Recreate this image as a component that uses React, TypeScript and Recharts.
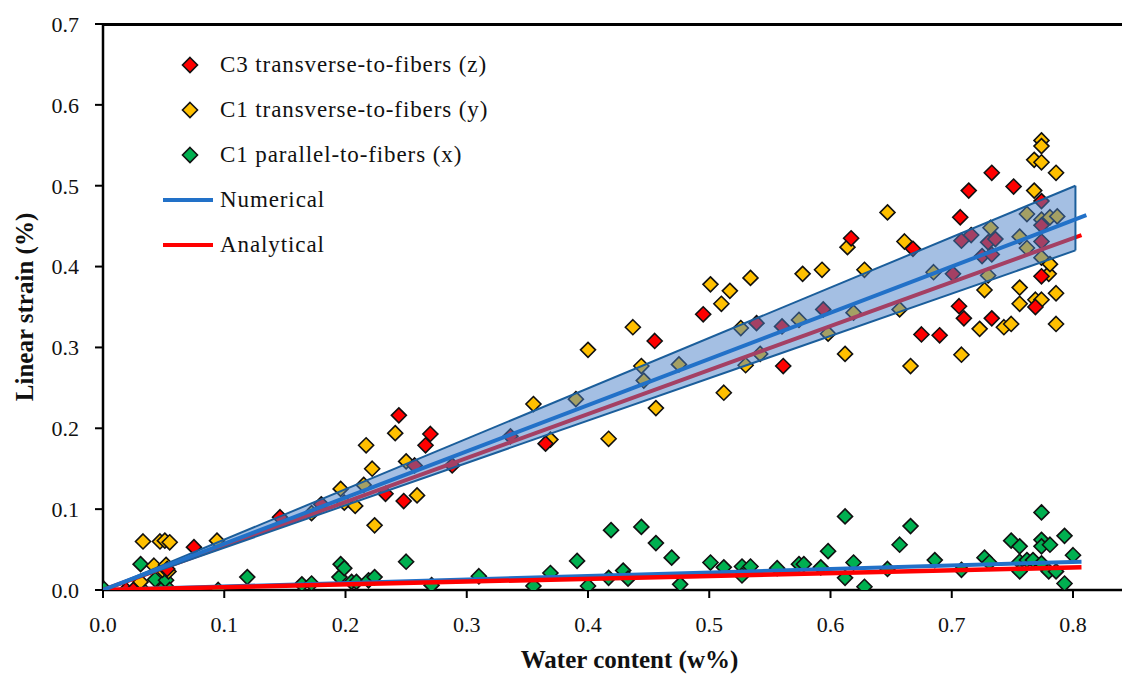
import { ComposedChart, Scatter, Line, Area, XAxis, YAxis, Legend } from "recharts";

const FONT = '"Liberation Serif", "Times New Roman", serif';

const xDomain = [0, 0.847];
const yDomain = [0, 0.7];
const xTicks = [0, 0.1, 0.2, 0.3, 0.4, 0.5, 0.6, 0.7, 0.8];
const yTicks = [0, 0.1, 0.2, 0.3, 0.4, 0.5, 0.6, 0.7];

// measured points [water content, strain]
const c3zPoints: [number, number][] = [
  [0.019, 0.0], [0.025, 0.0], [0.053, 0.026], [0.075, 0.053], [0.146, 0.09], [0.18, 0.106],
  [0.233, 0.119], [0.248, 0.11], [0.244, 0.216], [0.257, 0.154], [0.266, 0.179], [0.27, 0.193],
  [0.288, 0.154], [0.336, 0.19], [0.365, 0.181], [0.455, 0.308], [0.495, 0.341], [0.539, 0.33],
  [0.56, 0.326], [0.561, 0.277], [0.594, 0.347], [0.617, 0.435], [0.668, 0.422], [0.675, 0.316],
  [0.69, 0.315], [0.701, 0.391], [0.706, 0.351], [0.707, 0.461], [0.708, 0.432], [0.71, 0.336],
  [0.714, 0.494], [0.716, 0.439], [0.725, 0.413], [0.73, 0.43], [0.733, 0.516], [0.733, 0.415],
  [0.733, 0.336], [0.736, 0.434], [0.751, 0.499], [0.769, 0.35], [0.774, 0.481], [0.774, 0.451],
  [0.774, 0.431], [0.774, 0.388],
];

const c1yPoints: [number, number][] = [
  [0.031, 0.01], [0.033, 0.06], [0.042, 0.03], [0.047, 0.06], [0.049, 0.025], [0.051, 0.061],
  [0.052, 0.031], [0.054, 0.023], [0.055, 0.059], [0.094, 0.061], [0.172, 0.095], [0.196, 0.125],
  [0.199, 0.108], [0.208, 0.104], [0.215, 0.13], [0.217, 0.179], [0.222, 0.15], [0.224, 0.08],
  [0.241, 0.194], [0.25, 0.159], [0.259, 0.117], [0.355, 0.23], [0.369, 0.186], [0.39, 0.236],
  [0.4, 0.297], [0.417, 0.187], [0.437, 0.325], [0.444, 0.277], [0.446, 0.259], [0.456, 0.225],
  [0.475, 0.279], [0.501, 0.378], [0.51, 0.354], [0.512, 0.244], [0.517, 0.37], [0.526, 0.324],
  [0.53, 0.278], [0.534, 0.386], [0.542, 0.292], [0.574, 0.334], [0.577, 0.391], [0.593, 0.396],
  [0.598, 0.317], [0.612, 0.292], [0.614, 0.424], [0.619, 0.343], [0.628, 0.396], [0.647, 0.467],
  [0.657, 0.347], [0.661, 0.431], [0.666, 0.277], [0.685, 0.393], [0.708, 0.291], [0.723, 0.323],
  [0.727, 0.371], [0.73, 0.389], [0.732, 0.448], [0.743, 0.325], [0.749, 0.329], [0.756, 0.437],
  [0.756, 0.374], [0.756, 0.354], [0.762, 0.465], [0.762, 0.423], [0.768, 0.532], [0.768, 0.494],
  [0.769, 0.359], [0.774, 0.556], [0.774, 0.549], [0.774, 0.529], [0.774, 0.458], [0.774, 0.411],
  [0.774, 0.359], [0.78, 0.391], [0.781, 0.461], [0.781, 0.403], [0.786, 0.516], [0.786, 0.367],
  [0.786, 0.329], [0.787, 0.462],
];

const c1xPoints: [number, number][] = [
  [0.001, 0.001], [0.031, 0.032], [0.033, 0.0], [0.043, 0.013], [0.048, 0.0], [0.052, 0.012],
  [0.055, 0.0], [0.095, 0.0], [0.119, 0.016], [0.164, 0.007], [0.172, 0.008], [0.195, 0.016],
  [0.196, 0.032], [0.199, 0.027], [0.205, 0.01], [0.209, 0.01], [0.219, 0.012], [0.224, 0.016],
  [0.25, 0.035], [0.271, 0.006], [0.31, 0.017], [0.355, 0.005], [0.369, 0.021], [0.391, 0.036],
  [0.4, 0.005], [0.417, 0.015], [0.419, 0.074], [0.429, 0.024], [0.433, 0.014], [0.444, 0.078],
  [0.456, 0.058], [0.469, 0.04], [0.476, 0.007], [0.501, 0.034], [0.512, 0.028], [0.527, 0.029],
  [0.527, 0.018], [0.534, 0.029], [0.556, 0.027], [0.574, 0.032], [0.578, 0.032], [0.592, 0.028],
  [0.598, 0.048], [0.612, 0.091], [0.612, 0.015], [0.619, 0.034], [0.628, 0.004], [0.647, 0.026],
  [0.657, 0.056], [0.666, 0.079], [0.686, 0.037], [0.708, 0.025], [0.727, 0.04], [0.731, 0.034],
  [0.749, 0.061], [0.756, 0.054], [0.756, 0.035], [0.756, 0.023], [0.762, 0.037], [0.767, 0.037],
  [0.774, 0.096], [0.774, 0.062], [0.774, 0.054], [0.774, 0.033], [0.78, 0.023], [0.781, 0.056],
  [0.786, 0.023], [0.793, 0.067], [0.793, 0.008], [0.8, 0.043],
];

// model lines (start, end)
const numericalX = [0, 0.811];
const numericalY = [0, 0.4635];
const analyticalX = [0, 0.807];
const analyticalY = [0, 0.439];
const numericalLowX = [0, 0.807];
const numericalLowY = [0, 0.035];
const analyticalLowX = [0, 0.807];
const analyticalLowY = [0, 0.028];

// numerical scatter band
const bandX = [0, 0.802];
const bandLow = [0, 0.42];
const bandHigh = [0, 0.5];

const RED = "#ff0000";
const YELLOW = "#ffc000";
const GREEN = "#00b050";
const BLUE = "#2271c8";
const BAND_EDGE = "#1b5e9b";

const toXY = (pts: [number, number][]) => pts.map(([x, y]) => ({ x, y }));
const toLine = (xs: number[], ys: number[]) => xs.map((x, i) => ({ x, y: ys[i] }));
const bandData = bandX.map((x, i) => ({ x, band: [bandLow[i], bandHigh[i]] }));
const bandEdge = [
  { x: bandX[bandX.length - 1], y: bandLow[bandLow.length - 1] },
  { x: bandX[bandX.length - 1], y: bandHigh[bandHigh.length - 1] },
];

const legendItems = [
  { label: "C3 transverse-to-fibers (z)", color: RED, kind: "diamond" },
  { label: "C1 transverse-to-fibers (y)", color: YELLOW, kind: "diamond" },
  { label: "C1 parallel-to-fibers (x)", color: GREEN, kind: "diamond" },
  { label: "Numerical", color: BLUE, kind: "line" },
  { label: "Analytical", color: RED, kind: "line" },
];

function Diamond(props: any) {
  const { cx, cy, fill } = props;
  if (cx == null || cy == null) return null;
  const r = 7.5;
  return (
    <polygon
      points={`${cx},${cy - r} ${cx + r},${cy} ${cx},${cy + r} ${cx - r},${cy}`}
      fill={fill}
      stroke="#111"
      strokeWidth={1.6}
    />
  );
}

function LegendBox() {
  return (
    <div style={{ fontFamily: FONT, fontSize: 23, color: "#111" }}>
      {legendItems.map((it) => (
        <div key={it.label} style={{ display: "flex", alignItems: "center", height: 45 }}>
          <svg width={58} height={20} style={{ flex: "none" }}>
            {it.kind === "diamond" ? (
              <polygon points="30,2.5 37.5,10 30,17.5 22.5,10" fill={it.color} stroke="#111" strokeWidth={1.6} />
            ) : (
              <line x1={3} y1={10} x2={53} y2={10} stroke={it.color} strokeWidth={4} />
            )}
          </svg>
          <span style={{ marginLeft: 2, letterSpacing: 0.9, whiteSpace: "nowrap" }}>{it.label}</span>
        </div>
      ))}
    </div>
  );
}

function XTitle(props: any) {
  const vb = props.viewBox || { x: 95, y: 582, width: 1027, height: 84 };
  return (
    <text
      x={vb.x + vb.width / 2 + 13}
      y={vb.y + vb.height - 6}
      textAnchor="middle"
      fontFamily={FONT}
      fontWeight="bold"
      fontSize={25}
      fill="#111"
    >
      Water content (w%)
    </text>
  );
}

function YTitle(props: any) {
  const vb = props.viewBox || { x: 0, y: 16, width: 95, height: 566 };
  const cx = vb.x + 16;
  const cy = vb.y + vb.height / 2;
  return (
    <text
      x={cx}
      y={cy}
      textAnchor="middle"
      dominantBaseline="central"
      transform={`rotate(-90 ${cx} ${cy})`}
      fontFamily={FONT}
      fontWeight="bold"
      fontSize={25}
      fill="#111"
    >
      Linear strain (%)
    </text>
  );
}

const tickStyle = { fontFamily: FONT, fontSize: 22, fill: "#111" };

export default function App() {
  return (
    <div style={{ position: "relative", width: 1122, height: 666 }}>
      <ComposedChart width={1122} height={666} margin={{ top: 16, right: 0, bottom: 0, left: 0 }}>
        <XAxis
          type="number"
          dataKey="x"
          domain={xDomain}
          ticks={xTicks}
          allowDataOverflow
          tickFormatter={(v: number) => v.toFixed(1)}
          tick={tickStyle}
          tickSize={8}
          tickMargin={18}
          height={84}
          axisLine={{ stroke: "#000", strokeWidth: 2.5 }}
          tickLine={{ stroke: "#000", strokeWidth: 2 }}
          label={{ content: <XTitle /> }}
        />
        <YAxis
          type="number"
          dataKey="y"
          domain={yDomain}
          ticks={yTicks}
          allowDataOverflow
          tickFormatter={(v: number) => v.toFixed(1)}
          tick={tickStyle}
          tickSize={8}
          tickMargin={16}
          width={95}
          axisLine={{ stroke: "#000", strokeWidth: 2.5 }}
          tickLine={{ stroke: "#000", strokeWidth: 2 }}
          label={{ content: <YTitle /> }}
        />
        <Legend
          layout="vertical"
          align="center"
          verticalAlign="middle"
          content={() => <LegendBox />}
          wrapperStyle={{ left: 152, top: 34, width: 440 }}
        />
        <Scatter name="C1 parallel-to-fibers (x)" data={toXY(c1xPoints)} fill={GREEN} shape={<Diamond />} isAnimationActive={false} />
        <Scatter name="C1 transverse-to-fibers (y)" data={toXY(c1yPoints)} fill={YELLOW} shape={<Diamond />} isAnimationActive={false} />
        <Scatter name="C3 transverse-to-fibers (z)" data={toXY(c3zPoints)} fill={RED} shape={<Diamond />} isAnimationActive={false} />
        <Line data={toLine(numericalLowX, numericalLowY)} dataKey="y" type="linear" stroke={BLUE} strokeWidth={4} dot={false} isAnimationActive={false} legendType="none" zIndex={610} />
        <Line data={toLine(analyticalLowX, analyticalLowY)} dataKey="y" type="linear" stroke={RED} strokeWidth={4.5} dot={false} isAnimationActive={false} legendType="none" zIndex={615} />
        <Line data={toLine(analyticalX, analyticalY)} dataKey="y" type="linear" stroke={RED} strokeWidth={4} dot={false} isAnimationActive={false} legendType="none" zIndex={620} />
        <Area data={bandData} dataKey="band" type="linear" fill="#4a80c8" fillOpacity={0.5} stroke={BAND_EDGE} strokeWidth={2} isAnimationActive={false} legendType="none" zIndex={650} />
        <Line data={bandEdge} dataKey="y" type="linear" stroke={BAND_EDGE} strokeWidth={2} dot={false} isAnimationActive={false} legendType="none" zIndex={660} />
        <Line data={toLine(numericalX, numericalY)} dataKey="y" type="linear" stroke={BLUE} strokeWidth={4} dot={false} isAnimationActive={false} legendType="none" zIndex={700} />
      </ComposedChart>
      {/* top frame of the plot box */}
      <div style={{ position: "absolute", left: 94, right: 0, top: 15, height: 3, background: "#000" }} />
    </div>
  );
}
